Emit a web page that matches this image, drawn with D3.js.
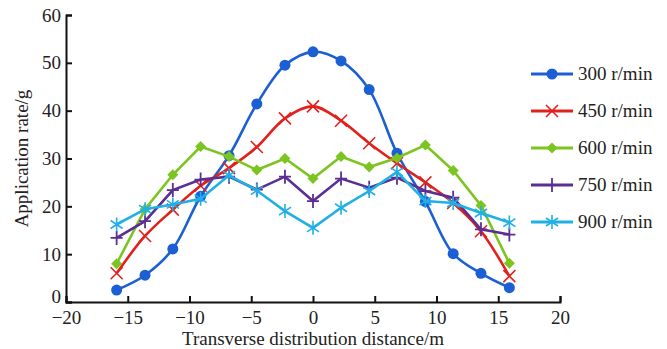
<!DOCTYPE html>
<html lang="en">
<head>
<meta charset="UTF-8">
<title>Application rate</title>
<script src="https://d3js.org/d3.v7.min.js"></script>
<style>
    body { margin: 0; background: #fff; }
    text { font-family: "Liberation Serif", "DejaVu Serif", serif; fill: #222; }
</style>
</head>
<body>
<svg></svg>
<script>
    const width = 667, height = 349;

    // distances along the transverse line (m)
    const distances = [-15.9, -13.6, -11.35, -9.1, -6.8, -4.55, -2.27, 0, 2.27, 4.55, 6.8, 9.1, 11.35, 13.6, 15.9];
    const rpm300 = [2.5, 5.6, 11.1, 22.1, 30.6, 41.4, 49.5, 52.3, 50.4, 44.4, 31.1, 21.0, 10.1, 6.0, 3.0];
    const rpm450 = [6.0, 13.8, 19.3, 24.3, 28.0, 32.4, 38.4, 40.9, 37.9, 33.2, 29.0, 25.0, 20.7, 14.8, 5.4];
    const rpm600 = [8.0, 19.4, 26.6, 32.5, 30.4, 27.6, 30.0, 25.8, 30.4, 28.2, 30.1, 32.8, 27.5, 20.2, 8.1];
    const rpm750 = [13.4, 16.9, 23.4, 25.6, 26.2, 23.5, 26.2, 21.1, 25.8, 23.9, 26.0, 23.2, 21.8, 15.2, 14.1];
    const rpm900 = [16.2, 19.4, 20.4, 21.6, 26.5, 23.3, 19.0, 15.5, 19.7, 23.2, 27.2, 21.1, 20.7, 18.6, 16.6];
    const seriesNames = ["300 r/min", "450 r/min", "600 r/min", "750 r/min", "900 r/min"];
    const xTicks = [-20, -15, -10, -5, 0, 5, 10, 15, 20];
    const yTicks = [0, 10, 20, 30, 40, 50, 60];

    const series = [
        { name: seriesNames[0], values: rpm300, color: "#1c5fd4", marker: "circle", curve: d3.curveCatmullRom },
        { name: seriesNames[1], values: rpm450, color: "#e2211c", marker: "x", curve: d3.curveCatmullRom },
        { name: seriesNames[2], values: rpm600, color: "#7cc520", marker: "diamond", curve: d3.curveLinear },
        { name: seriesNames[3], values: rpm750, color: "#5b2e92", marker: "plus", curve: d3.curveLinear },
        { name: seriesNames[4], values: rpm900, color: "#20b0e6", marker: "star", curve: d3.curveLinear }
    ];

    const margin = { top: 15, right: 107, bottom: 47, left: 66 };
    const fontSize = 19;

    const svg = d3.select("svg")
        .attr("width", width)
        .attr("height", height)
        .attr("viewBox", [0, 0, width, height]);

    const x = d3.scaleLinear().domain([-20, 20]).range([margin.left, width - margin.right]);
    const y = d3.scaleLinear().domain([0, 60]).range([height - margin.bottom, margin.top]);

    // axes with inward ticks
    const xAxis = svg.append("g")
        .attr("transform", `translate(0,${height - margin.bottom})`)
        .call(d3.axisBottom(x).tickValues(xTicks).tickSize(-6).tickPadding(9)
            .tickFormat(d => d < 0 ? "\u2212" + Math.abs(d) : d));
    const yAxis = svg.append("g")
        .attr("transform", `translate(${margin.left},0)`)
        .call(d3.axisLeft(y).tickValues(yTicks).tickSize(-6).tickPadding(5));

    [xAxis, yAxis].forEach(g => {
        g.select(".domain").attr("stroke", "#111").attr("stroke-width", 2);
        g.selectAll(".tick line").attr("stroke", "#111").attr("stroke-width", 2);
        g.selectAll(".tick text").attr("font-size", fontSize).attr("font-family", "Liberation Serif, serif").attr("fill", "#222");
    });
    // keep the y "0" clear of the x "-20"
    yAxis.selectAll(".tick text").filter(d => d === 0).attr("dy", "0.02em");

    svg.append("text")
        .attr("x", x(0))
        .attr("y", 345)
        .attr("text-anchor", "middle")
        .attr("font-size", fontSize)
        .text("Transverse distribution distance/m");

    svg.append("text")
        .attr("transform", `translate(28,${y(30)}) rotate(-90)`)
        .attr("text-anchor", "middle")
        .attr("font-size", fontSize)
        .text("Application rate/g");

    function drawMarker(g, type, color) {
        if (type === "circle") {
            g.append("circle").attr("r", 5.5).attr("fill", color);
        } else if (type === "diamond") {
            g.append("path").attr("d", "M0,-5.5L5.5,0L0,5.5L-5.5,0Z").attr("fill", color);
        } else if (type === "x") {
            g.append("path").attr("d", "M-6,-6L6,6M-6,6L6,-6").attr("stroke", color).attr("stroke-width", 1.6);
        } else if (type === "plus") {
            g.append("path").attr("d", "M0,-7L0,7M-6,0L6,0").attr("stroke", color).attr("stroke-width", 1.8);
        } else if (type === "star") {
            g.append("path").attr("d", "M0,-7L0,7M-6,-4L6,4M-6,4L6,-4").attr("stroke", color).attr("stroke-width", 1.6);
        }
    }

    const plot = svg.append("g");

    series.forEach(s => {
        const pts = distances.map((d, i) => [d, s.values[i]]);
        const line = d3.line().x(d => x(d[0])).y(d => y(d[1])).curve(s.curve);
        plot.append("path")
            .datum(pts)
            .attr("fill", "none")
            .attr("stroke", s.color)
            .attr("stroke-width", 2.6)
            .attr("d", line);

        plot.selectAll(null)
            .data(pts)
            .join("g")
            .attr("transform", d => `translate(${x(d[0])},${y(d[1])})`)
            .each(function () { drawMarker(d3.select(this), s.marker, s.color); });
    });

    // legend
    const legend = svg.append("g").attr("transform", "translate(531,74)");
    series.forEach((s, i) => {
        const row = legend.append("g").attr("transform", `translate(0,${i * 37})`);
        row.append("line").attr("x1", 0).attr("x2", 42).attr("stroke", s.color).attr("stroke-width", 3);
        drawMarker(row.append("g").attr("transform", "translate(21,0)"), s.marker, s.color);
        row.append("text")
            .attr("x", 47)
            .attr("y", 6)
            .attr("font-size", fontSize)
            .text(s.name);
    });
</script>
</body>
</html>
